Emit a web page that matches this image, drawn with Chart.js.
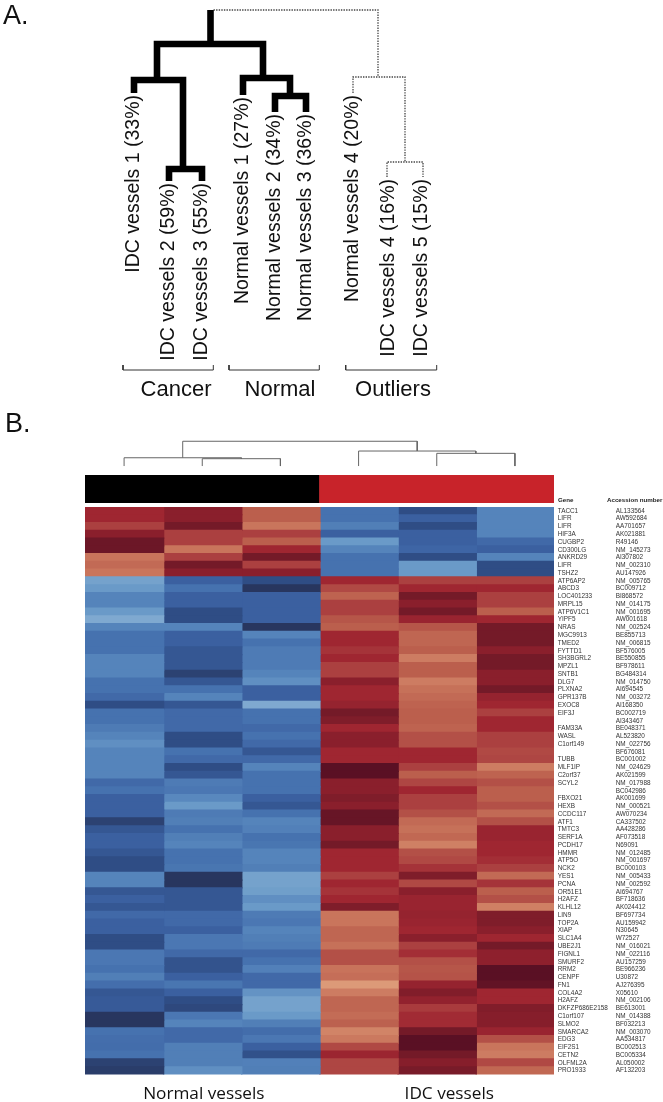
<!DOCTYPE html>
<html><head><meta charset="utf-8">
<style>
html,body{margin:0;padding:0;background:#fff;width:663px;height:1102px;overflow:hidden}
canvas{position:absolute;left:0;display:block;filter:blur(0.35px)}
#ca{top:0}#cb{top:400px}#cd{top:400px}#cc{top:505px}
</style>
<script src="https://cdn.jsdelivr.net/npm/chart.js@4"></script>
</head><body>
<canvas id="ca" width="663" height="400"></canvas>
<canvas id="cd" width="663" height="105"></canvas>
<canvas id="cb" width="663" height="105"></canvas>
<canvas id="cc" width="663" height="597"></canvas>
<script>
// ---------- Panel A data ----------
const leafNames=["IDC vessels 1 (33%)","IDC vessels 2 (59%)","IDC vessels 3 (55%)","Normal vessels 1 (27%)","Normal vessels 2 (34%)","Normal vessels 3 (36%)","Normal vessels 4 (20%)","IDC vessels 4 (16%)","IDC vessels 5 (15%)"];
const leafX=[13.4,16.9,20.2,24.3,27.5,30.6,35.3,38.9,42.2];
const leafEnd=[76.75,54.75,54.75,76.25,72,72,76.75,55.75,55.75];
const thickLeft=[16.9,13.4,27.5,24.3,15.7];
const thickRight=[20.2,18.3,30.6,29.0,26.3];
const thickHeight=[57.75,80,76,80.5,89];
const thickLeftEnd=[54.75,76.75,72,76.25,80];
const thickRightEnd=[54.75,57.75,72,76,80.5];
const rootX=21.05, rootTop=97.5;
const dotLeft=[38.7,35.3];
const dotRight=[42.3,40.5];
const dotHeight=[59.5,80.75];
const dotLeftEnd=[55.75,76.75];
const dotRightEnd=[55.75,59.5];
const outlierX=37.8;
const groupNames=["Cancer","Normal","Outliers"];
const groupFrom=[12.3,22.9,34.57];
const groupTo=[21.33,31.93,43.67];
const groupCenter=[17.6,28.0,39.3];
// ---------- Panel B data ----------
const genes=["TACC1","LIFR","LIFR","HIF3A","CUGBP2","CD300LG","ANKRD29","LIFR","TSHZ2","ATP6AP2","ABCD3","LOC401233","MRPL15","ATP6V1C1","YIPF5","NRAS","MGC9913","TMED2","FYTTD1","SH3BGRL2","MPZL1","SNTB1","DLG7","PLXNA2","GPR137B","EXOC8","EIF3J","","FAM33A","WASL","C1orf149","","TUBB","MLF1IP","C2orf37","SCYL2","","FBXO21","HEXB","CCDC117","ATF1","TMTC3","SERF1A","PCDH17","HMMR","ATP5O","NCK2","YES1","PCNA","OR51E1","H2AFZ","KLHL12","LIN9","TOP2A","XIAP","SLC1A4","UBE2J1","FIGNL1","SMURF2","RRM2","CENPF","FN1","COL4A2","H2AFZ","DKFZP686E2158","C1orf107","SLMO2","SMARCA2","EDG3","EIF2S1","CETN2","OLFML2A","PRO1933"];
const accessions=["AL133564","AW592684","AA701657","AK021881","R49146","NM_145273","AI307802","NM_002310","AU147926","NM_005765","BC009712","BI868572","NM_014175","NM_001695","AW001618","NM_002524","BE855713","NM_006815","BF576005","BE550855","BF978611","BG484314","NM_014750","AI694545","NM_003272","AI168350","BC002719","AI343467","BE048371","AL523820","NM_022756","BF676081","BC001002","NM_024629","AK021599","NM_017988","BC042986","AK001699","NM_000521","AW070234","CA337502","AA428286","AF073518","N69091","NM_012485","NM_001697","BC000103","NM_005433","NM_002592","AI694767","BF718636","AK024412","BF697734","AU159942","N30645","W72527","NM_016021","NM_022116","AU157259","BE966236","U30872","AJ276395","X05610","NM_002106","BE613001","NM_014388","BF032213","NM_003070","AA534817","BC002513","BC005334","AL050002","AF132203"];
const normal1=[5,5,4,6,7.3,7.3,2,2.5,2,-1.5,-2,-3,-3,-2,-1,-3,-4,-4,
 -4,-3,-3,-3,-4,-4,-4.5,-6,-4,-4,-3.5,-3,-2.5,-3,-3,-3,-3,-4.5,
 -4,-5,-5,-5,-6.5,-5.5,-5,-5,-5.5,-6,-6,-3,-3,-5.5,-5,-5.5,-4.5,-5,
 -5,-6,-6,-3.7,-3.7,-4,-3.3,-4.2,-5.5,-5.3,-5.3,-7,-7,-4,-4.2,-4.3,-4,-6.5,-6.7];
const normal2=[6,6,7,4,4,2,4,7,6,-5,-4,-5,-5,-6,-6,-3,-5,-5,
 -5.5,-5.5,-5.5,-6.5,-5.5,-4,-3,-5.5,-4.5,-4.5,-4.5,-6,-6,-4,-4.5,-6,-5.5,-3.5,
 -3.7,-2.8,-2,-3.5,-3.3,-4,-3.3,-3,-4,-4,-3.8,-7,-7,-5.5,-5.5,-5.5,-4.5,-4.5,
 -5,-3.7,-3.7,-4.5,-5.7,-5.7,-5,-3.8,-5,-6,-6.2,-3.7,-3,-4.5,-4.5,-3.3,-3.3,-3.3,-2.5];
const normal3=[3,3,2,4,3,5,7,4,6,-6,-7,-5,-5,-5,-5,-7,-3,-4,
 -3.5,-3.5,-3.5,-3,-2.5,-5,-5,-1,-4,-4,-4.5,-4,-4.5,-5.5,-4.5,-3,-4,-4,
 -4,-5,-5.5,-4,-3,-3.2,-4,-3.8,-3,-3,-3.3,-1.5,-1.5,-1.7,-2.5,-2,-3.5,-3.7,
 -3,-3.3,-3.5,-4.5,-4,-3.2,-4.5,-4.5,-2.3,-1.5,-1.5,-2,-3.3,-4.3,-3.7,-5,-5.8,-3.2,-3.3];
const idc1=[-4,-4,-3.3,-5,-2,-3,-4,-4,-4,5,3.7,2.8,4,4,3.3,3,5,5,
 4.5,5,4,4,6,5,5,5.5,7,6.5,5,6,6,5,5,8,8,6,
 6,6.5,6,7.5,7.5,6,6,7,5,5,5,4,5,4.5,5,6.5,2,2,
 2.7,2.7,2.2,3.5,3.5,2.1,2.3,1,1.8,2.7,2.7,2.4,2.9,1.6,1.9,3.7,5.2,3.8,3.8];
const idc2=[-6,-5,-6,-5,-5,-4.7,-6,-2,-2,4,5,7,6,7,5.3,3.3,2.7,2.7,
 3,1.8,3,3,1.8,2.2,2.5,2.8,3,3,2.8,3.5,3.5,5,5,4,3,3.8,
 5,4,4,3.5,2.5,2.2,2.6,1.7,3.5,3.7,4.5,6.5,3.7,6,5.3,5.3,5.5,5.3,
 5,6,4,4.7,3.5,3.3,3.4,5.5,6.4,5.6,4.2,4.8,4.8,7,8,8,7,6.2,6.8];
const idc3=[-3,-3,-3,-3,-4.5,-5,-3,-6,-6,4,5,4,4,3,5,7,7,7,
 6,7,7,6,6,7,5.5,5,4,5,5,4,4,3.7,3.8,1.8,2.8,3.5,
 3,3,3.5,2.5,3.5,5.3,5.3,5,5,4.7,4,2.5,4.5,3,3.5,1.7,6.5,6.5,
 6,5,7,5.8,5.8,8,8,7.7,5,5,6.4,6.2,6.2,5.3,3.5,2,1.8,3.7,2.6];
const columns=[normal1,normal2,normal3,idc1,idc2,idc3];
const treeLeft=[1.5,0.5,4.5,3.5,1.25];
const treeRight=[2.5,2.0,5.5,5.0,4.25];
const treeHeight=[44.1,45,49.2,51.4,60.7];
const treeLeftEnd=[37.1,37.1,37.1,37.1,45];
const treeRightEnd=[37.1,44.1,37.1,49.2,51.4];
const headerBar=[[2.2,28.3],[2.2,28.3]];
const headerNames=["Normal","IDC"];
const groupTickPos=[1.52,4.66];
const groupTickText=["Normal vessels","IDC vessels"];

const FONT='"Liberation Sans"';
const blueStops=["#7fa9d0","#6a9ac8","#5584bb","#4672af","#3b60a0","#2f4d85","#28365f"];
const redStops=["#dc9a78","#c9755c","#bb5f4d","#ab4040","#9f2631","#8a1f2c","#741a28","#5a1024"];
function hex(c){return [1,3,5].map(i=>parseInt(c.substr(i,2),16));}
function colour(v){
  const st=v<0?blueStops:redStops, a=Math.abs(v)-1;
  const i=Math.max(0,Math.min(st.length-1,Math.floor(a))), j=Math.min(st.length-1,i+1), t=a-Math.floor(a);
  const p=hex(st[i]),q=hex(st[j]);
  return 'rgb('+p.map((x,k)=>Math.round(x+(q[k]-x)*t)).join(',')+')';
}
function uLink(l,r,h,dl,dr){return [{x:l,y:dl},{x:l,y:h},{x:r,y:h},{x:r,y:dr}];}
function line(pts,color,width,dash){return {type:'scatter',showLine:true,data:pts,borderColor:color,borderWidth:width,borderDash:dash||[],pointRadius:0,tension:0,fill:false,borderJoinStyle:'miter',borderCapStyle:'butt',clip:false};}
const base={responsive:false,animation:false,devicePixelRatio:1,plugins:{legend:{display:false},tooltip:{enabled:false}}};

// ---------- Panel A ----------
const aSets=[];
thickLeft.forEach((l,i)=>aSets.push(line(uLink(l,thickRight[i],thickHeight[i],thickLeftEnd[i],thickRightEnd[i]),'#000',6.6)));
aSets.push(line([{x:rootX,y:thickHeight[4]},{x:rootX,y:rootTop}],'#000',6.6));
dotLeft.forEach((l,i)=>aSets.push(line(uLink(l,dotRight[i],dotHeight[i],dotLeftEnd[i],dotRightEnd[i]),'#444',1.3,[1.4,1.2])));
aSets.push(line([{x:rootX+0.3,y:rootTop},{x:outlierX,y:rootTop},{x:outlierX,y:dotHeight[1]}],'#444',1.3,[1.4,1.2]));
groupFrom.forEach((f,i)=>aSets.push(line([{x:f,y:8.75},{x:f,y:7.5},{x:groupTo[i],y:7.5},{x:groupTo[i],y:8.75}],'#333',1)));
new Chart(document.getElementById('ca'),{type:'scatter',data:{datasets:aSets},
 options:{...base,layout:{padding:0},scales:{x:{type:'linear',min:0,max:66.3,display:false},y:{type:'linear',min:0,max:100,display:false}}},
 plugins:[{id:'textA',afterDraw(c){
   const g=c.ctx,X=c.scales.x,Y=c.scales.y;g.save();g.fillStyle='#111';
   g.font='19.5px '+FONT;g.textAlign='right';g.textBaseline='middle';
   leafNames.forEach((n,i)=>{g.save();g.translate(X.getPixelForValue(leafX[i]),Y.getPixelForValue(leafEnd[i])+2);g.rotate(-Math.PI/2);g.fillText(n,0,0);g.restore();});
   g.font='22px '+FONT;g.textAlign='center';g.textBaseline='alphabetic';
   groupNames.forEach((n,i)=>g.fillText(n,X.getPixelForValue(groupCenter[i]),396));
   g.font='27px '+FONT;g.textAlign='left';g.fillText('A.',3,24);
   g.restore();}}]});

// ---------- Panel B header bars ----------
new Chart(document.getElementById('cd'),{type:'bar',data:{labels:headerNames,datasets:[{data:headerBar,backgroundColor:['#000000','#c8232a'],barPercentage:1,categoryPercentage:1}]},
 options:{...base,layout:{padding:{left:85,right:109,top:0,bottom:0}},scales:{
   x:{type:'category',display:false,offset:true},y:{type:'linear',min:0,max:100,display:false}}}});

// ---------- Panel B sample tree ----------
const bSets=[];
treeLeft.forEach((l,i)=>bSets.push(line(uLink(l,treeRight[i],treeHeight[i],treeLeftEnd[i],treeRightEnd[i]),'#666',1)));
new Chart(document.getElementById('cb'),{type:'scatter',data:{datasets:bSets},
 options:{...base,layout:{padding:{left:85,right:109,top:0,bottom:0}},scales:{
   x:{type:'linear',min:0,max:6,display:false},y:{type:'linear',min:0,max:100,display:false}}},
 plugins:[{id:'textB',afterDraw(c){const g=c.ctx;g.save();g.fillStyle='#111';g.textBaseline='alphabetic';
   g.font='27px '+FONT;g.fillText('B.',5,32);
   g.font='bold 6.2px '+FONT;g.fillStyle='#222';g.fillText('Gene',558,102);g.fillText('Accession number',607,102);
   g.restore();}}]});

// ---------- Panel B heat map ----------
function noPad(s){s.paddingTop=0;s.paddingBottom=0;s.paddingLeft=0;s.paddingRight=0;}
new Chart(document.getElementById('cc'),{type:'bar',data:{labels:genes,datasets:columns.map((col,c)=>({
   data:col.map(()=>[c,c+1.01]),backgroundColor:col.map(colour),borderWidth:0,barThickness:8.3,grouped:false}))},
 options:{...base,indexAxis:'y',layout:{padding:{left:85,right:0,top:2,bottom:0}},scales:{
   x:{type:'linear',min:0,max:6,position:'bottom',border:{display:false},grid:{display:false},
      afterBuildTicks(s){s.ticks=groupTickPos.map(v=>({value:v}));},
      afterFit(s){s.height=27.5;noPad(s);},
      ticks:{autoSkip:false,maxRotation:0,minRotation:0,padding:1,color:'#111',font:{family:'"Open Sans"',size:17.2},
        callback:(v,i)=>groupTickText[i]}},
   y:{type:'category',position:'right',offset:true,labels:genes,border:{display:false},grid:{display:false,drawTicks:false},
      afterFit(s){s.width=61.7;noPad(s);},
      ticks:{autoSkip:false,padding:3.7,color:'#333',font:{family:FONT,size:6.4}}},
   y2:{type:'category',position:'right',offset:true,labels:accessions,border:{display:false},grid:{display:false,drawTicks:false},
      afterFit(s){s.width=47.3;noPad(s);},
      ticks:{autoSkip:false,padding:0,color:'#333',font:{family:FONT,size:6.4}}}
 }}});
</script>
</body></html>
